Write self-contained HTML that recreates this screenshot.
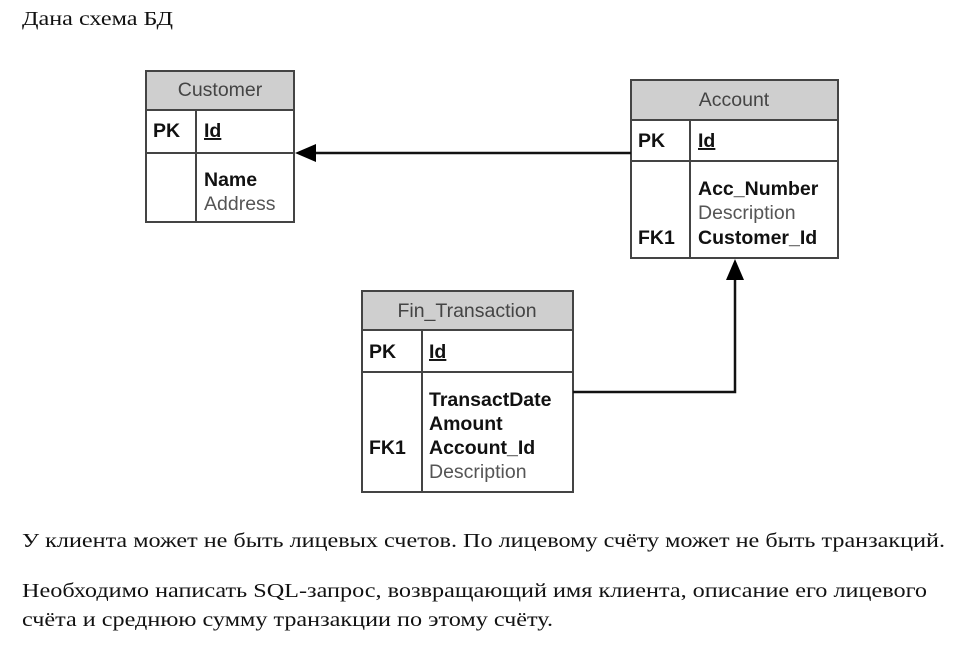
<!DOCTYPE html>
<html><head><meta charset="utf-8"><style>
html,body{margin:0;padding:0;background:#fff;}
svg{display:block}
.s{font-family:"Liberation Sans",sans-serif;font-size:19.5px;fill:#111}
.b{font-weight:bold}
.g{fill:#555}
.h{fill:#444}
.t{font-family:"Liberation Serif","Noto Serif CJK SC",serif;font-size:20px;fill:#111}
</style></head><body>
<svg width="955" height="647" viewBox="0 0 955 647" xmlns="http://www.w3.org/2000/svg">
<text class="t" x="22" y="25" textLength="151" lengthAdjust="spacingAndGlyphs">Дана схема БД</text>

<!-- Customer -->
<g stroke="#444" stroke-width="2" fill="none">
<rect x="146" y="71" width="148" height="39" fill="#cfcfcf"/>
<rect x="146" y="110" width="148" height="112" fill="#fff"/>
<line x1="146" y1="153" x2="294" y2="153"/>
<line x1="196" y1="110" x2="196" y2="222"/>
</g>
<text class="s h" x="220" y="96" text-anchor="middle">Customer</text>
<text class="s b" x="153" y="137">PK</text>
<text class="s b" x="204" y="137" text-decoration="underline">Id</text>
<text class="s b" x="204" y="186">Name</text>
<text class="s g" x="204" y="210">Address</text>

<!-- Account -->
<g stroke="#444" stroke-width="2" fill="none">
<rect x="631" y="80" width="207" height="40" fill="#cfcfcf"/>
<rect x="631" y="120" width="207" height="138" fill="#fff"/>
<line x1="631" y1="161" x2="838" y2="161"/>
<line x1="690" y1="120" x2="690" y2="258"/>
</g>
<text class="s h" x="734" y="106" text-anchor="middle">Account</text>
<text class="s b" x="638" y="147">PK</text>
<text class="s b" x="698" y="147" text-decoration="underline">Id</text>
<text class="s b" x="698" y="195">Acc_Number</text>
<text class="s g" x="698" y="219">Description</text>
<text class="s b" x="638" y="244">FK1</text>
<text class="s b" x="698" y="244">Customer_Id</text>

<!-- Fin_Transaction -->
<g stroke="#444" stroke-width="2" fill="none">
<rect x="362" y="291" width="211" height="39" fill="#cfcfcf"/>
<rect x="362" y="330" width="211" height="162" fill="#fff"/>
<line x1="362" y1="372" x2="573" y2="372"/>
<line x1="422" y1="330" x2="422" y2="492"/>
</g>
<text class="s h" x="467" y="317" text-anchor="middle">Fin_Transaction</text>
<text class="s b" x="369" y="358">PK</text>
<text class="s b" x="429" y="358" text-decoration="underline">Id</text>
<text class="s b" x="429" y="406">TransactDate</text>
<text class="s b" x="429" y="430">Amount</text>
<text class="s b" x="369" y="454">FK1</text>
<text class="s b" x="429" y="454">Account_Id</text>
<text class="s g" x="429" y="478">Description</text>

<!-- connectors -->
<g stroke="#111" stroke-width="2.5" fill="none">
<line x1="631" y1="153" x2="312" y2="153"/>
<polyline points="573,392 735,392 735,278"/>
</g>
<polygon points="295,153 316,144 316,162" fill="#000"/>
<polygon points="735,259 726,280 744,280" fill="#000"/>

<text class="t" x="22" y="547" textLength="923" lengthAdjust="spacingAndGlyphs">У клиента может не быть лицевых счетов. По лицевому счёту может не быть транзакций.</text>
<text class="t" x="22" y="597" textLength="905" lengthAdjust="spacingAndGlyphs">Необходимо написать SQL-запрос, возвращающий имя клиента, описание его лицевого</text>
<text class="t" x="22" y="626" textLength="531" lengthAdjust="spacingAndGlyphs">счёта и среднюю сумму транзакции по этому счёту.</text>
</svg>
</body></html>
